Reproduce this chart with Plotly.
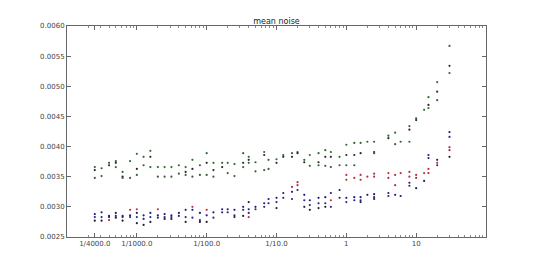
import plotly.graph_objects as go

exposure = [1/4000, 1/3200, 1/2500, 1/2000, 1/1600, 1/1250, 1/1000, 1/800, 1/640, 1/500,
            1/400, 1/320, 1/250, 1/200, 1/160, 1/125, 1/100, 1/80, 1/60, 1/50,
            1/40, 1/30, 1/25, 1/20, 1/15, 1/13, 1/10, 1/8, 1/6, 1/5,
            1/4, 0.3, 0.4, 0.5, 0.6, 0.8, 1, 1.3, 1.6, 2,
            2.5, 4, 5, 6, 8, 10, 13, 15, 20, 30]

N = None
up_green1 = [0.00366, 0.00364, 0.00373, 0.00376, 0.00358, 0.00376, 0.00388, 0.00383, 0.00393, 0.00366,
             0.00366, 0.00366, 0.00369, 0.00366, 0.00378, 0.00369, 0.00389, 0.00373, 0.00373, 0.00373,
             0.00371, 0.00389, 0.00383, 0.00374, 0.00391, 0.00378, 0.00379, 0.00386, 0.00389, 0.00391,
             0.00378, 0.00386, 0.00389, 0.00394, 0.00391, 0.00383, 0.00403, 0.00406, 0.00406, 0.00408,
             0.00408, 0.00418, 0.00423, 0.00408, 0.00434, 0.00447, 0.00461, 0.00482, 0.00507, 0.00567]
up_black = [0.00361, N, 0.00369, 0.00373, 0.00350, N, 0.00363, N, 0.00383, N,
            N, N, N, 0.00358, 0.00363, N, 0.00373, 0.00361, 0.00366, N,
            N, 0.00373, 0.00378, N, 0.00386, N, 0.00373, 0.00383, 0.00383, 0.00389,
            0.00374, N, 0.00374, 0.00383, 0.00383, N, 0.00386, 0.00386, 0.00389, N,
            0.00391, 0.00414, N, N, 0.00428, 0.00444, N, 0.00469, 0.00491, 0.00534]
up_green2 = [0.00348, 0.00351, N, 0.00366, 0.00348, 0.00348, 0.00353, 0.00369, 0.00366, 0.00350,
             0.00350, 0.00350, 0.00355, 0.00353, 0.00350, 0.00353, 0.00353, 0.00350, N, 0.00356,
             0.00351, 0.00366, 0.00373, 0.00359, 0.00361, 0.00363, N, N, N, N,
             N, 0.00368, 0.00369, 0.00368, 0.00366, 0.00369, 0.00369, 0.00369, N, N,
             0.00389, N, 0.00404, N, 0.00408, N, N, 0.00464, 0.00477, 0.00522]

lo_red1 = [N, N, 0.00278, N, N, 0.00295, 0.00296, N, N, 0.00296,
           N, N, N, N, 0.00300, N, 0.00295, N, N, N,
           N, N, 0.00283, N, N, N, N, N, 0.00333, 0.00341,
           N, N, N, N, 0.00311, N, 0.00353, 0.00348, 0.00353, 0.00350,
           0.00355, 0.00356, 0.00353, 0.00356, 0.00358, 0.00353, 0.00356, 0.00363, 0.00373, 0.00399]
lo_red2 = [N, N, N, N, N, N, N, N, N, N,
           N, N, N, N, N, N, N, N, N, N,
           N, N, N, N, N, N, N, N, N, 0.00336,
           N, N, N, N, N, N, 0.00345, N, 0.00345, N,
           0.00350, 0.00348, 0.00336, N, 0.00350, 0.00348, N, 0.00356, N, 0.00394]
lo_blue1 = [0.00288, 0.00291, 0.00285, 0.00290, 0.00285, 0.00286, 0.00290, 0.00286, 0.00290, 0.00286,
            0.00288, 0.00286, 0.00290, 0.00295, 0.00295, 0.00290, 0.00286, 0.00291, 0.00296, 0.00296,
            0.00295, 0.00300, 0.00296, 0.00300, 0.00306, 0.00313, 0.00315, 0.00323, 0.00325, 0.00328,
            0.00320, 0.00311, 0.00315, 0.00316, 0.00323, 0.00328, 0.00315, 0.00316, 0.00316, 0.00320,
            0.00321, 0.00323, 0.00320, 0.00318, 0.00340, 0.00331, 0.00343, 0.00386, 0.00378, 0.00424]
lo_blue2 = [0.00283, 0.00283, 0.00283, 0.00285, 0.00283, 0.00283, 0.00283, 0.00280, 0.00283, 0.00282,
            0.00283, 0.00283, 0.00285, 0.00283, 0.00282, 0.00278, N, 0.00282, 0.00291, 0.00291,
            0.00286, 0.00295, 0.00290, 0.00296, 0.00300, 0.00306, 0.00308, 0.00315, 0.00313, N,
            0.00311, 0.00303, 0.00306, 0.00306, 0.00300, 0.00315, 0.00308, 0.00311, 0.00311, N,
            0.00316, 0.00318, N, N, 0.00335, N, N, 0.00381, 0.00369, 0.00416]
lo_black = [0.00277, 0.00277, N, 0.00282, 0.00277, N, 0.00273, 0.00270, 0.00275, N,
            0.00280, 0.00280, N, 0.00275, N, 0.00275, 0.00275, N, N, N,
            0.00283, 0.00285, 0.00308, N, N, N, 0.00298, N, N, N,
            0.00300, 0.00295, 0.00298, 0.00300, N, N, N, N, 0.00308, N,
            0.00313, N, N, N, N, N, N, N, N, 0.00383]

xtick_vals = [1/4000, 1/1000, 1/100, 1/10, 1, 10]
xtick_text = ["1/4000.0", "1/1000.0", "1/100.0", "1/10.0", "1", "10"]
ytick_vals = [0.0025, 0.0030, 0.0035, 0.0040, 0.0045, 0.0050, 0.0055, 0.0060]

series = [
    (up_green1, "#2f6a2f"),
    (up_black, "#2a2a2a"),
    (up_green2, "#3a5f3a"),
    (lo_black, "#222233"),
    (lo_blue2, "#2a2a88"),
    (lo_blue1, "#1f1f7a"),
    (lo_red2, "#b03040"),
    (lo_red1, "#c03040"),
]

fig = go.Figure()
for vals, col in series:
    fig.add_trace(go.Scatter(x=exposure, y=vals, mode="markers",
                             marker=dict(size=2.2, color=col, line=dict(width=0)),
                             showlegend=False, hoverinfo="skip"))

minor_vals = [m * 10 ** k for k in range(-4, 2) for m in range(2, 10)]

axis_common = dict(showline=True, linecolor="#666666", linewidth=1, mirror="ticks",
                   ticks="inside", ticklen=4, tickcolor="#666666", showgrid=False,
                   zeroline=False, tickfont=dict(family="DejaVu Sans", size=7, color="#444444"))

fig.update_xaxes(type="log", range=[-4, 2], tickmode="array", tickvals=xtick_vals,
                 ticktext=xtick_text,
                 minor=dict(tickmode="array", tickvals=minor_vals, ticks="inside", ticklen=2,
                            tickcolor="#888888", showgrid=False),
                 **axis_common)
fig.update_yaxes(range=[0.0025, 0.0060], tickmode="array", tickvals=ytick_vals,
                 tickformat=".4f", **axis_common)

fig.update_layout(
    width=540, height=264,
    margin=dict(l=67, r=54, t=26, b=27),
    paper_bgcolor="white", plot_bgcolor="white",
    title=dict(text="mean noise", x=0.5, xref="paper", y=1, yref="paper", yanchor="bottom",
               pad=dict(b=2), font=dict(family="DejaVu Sans", size=8, color="#222222")),
)

fig.write_html("out.html")
